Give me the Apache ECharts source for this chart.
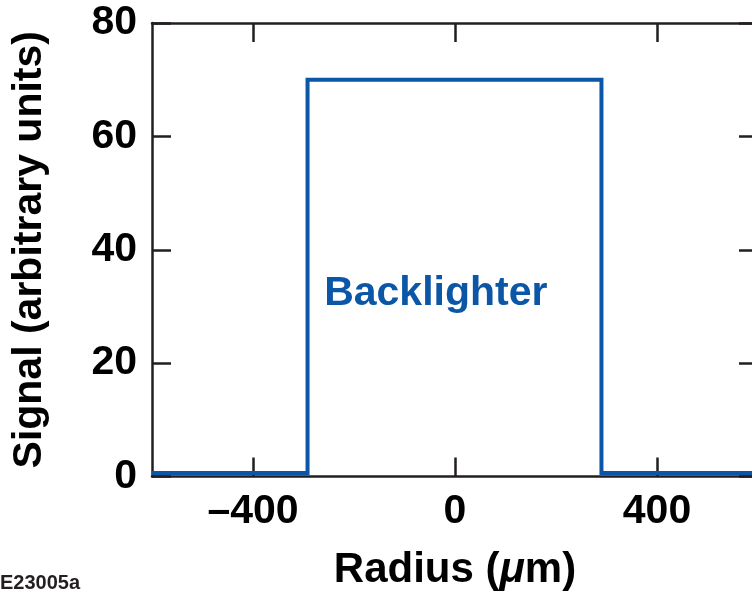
<!DOCTYPE html>
<html>
<head>
<meta charset="utf-8">
<script src="https://cdn.jsdelivr.net/npm/echarts@6/dist/echarts.min.js"></script>
<style>
  html, body { margin: 0; padding: 0; background: #ffffff; }
  #chart { width: 752px; height: 594px; }
</style>
</head>
<body>
<div id="chart"></div>
<script>
// Backlighter signal profile across the radius (a flat-topped step)
const radius = [-600, -292, -292, 290, 290, 600];
const signal = [0.6, 0.6, 70, 70, 0.6, 0.6];

// Axis ticks
const xTicks = [-400, 0, 400];
const yTicks = [0, 20, 40, 60, 80];

const ink = '#231f20';
const blue = '#0b56a6';
const font = '"Liberation Sans", Arial, Helvetica, sans-serif';

const chart = echarts.init(document.getElementById('chart'), null, { renderer: 'canvas' });

const baseTick = { show: true, inside: true, length: 19, lineStyle: { color: ink, width: 2.5 } };
const baseLine = { show: true, onZero: false, lineStyle: { color: ink, width: 2.5 } };

chart.setOption({
  animation: false,
  backgroundColor: '#ffffff',
  grid: {
    left: 152, right: -6, top: 23, bottom: 117.5,
    containLabel: false, outerBoundsMode: 'none'
  },
  xAxis: [
    {
      type: 'value', min: -600, max: 600, position: 'bottom',
      axisLine: baseLine,
      axisTick: Object.assign({ customValues: xTicks }, baseTick),
      axisLabel: {
        customValues: xTicks, margin: 15,
        fontFamily: font, fontWeight: 'bold', fontSize: 41, color: '#000',
        formatter: v => (v < 0 ? '\u2013' + Math.abs(v) : String(v))
      },
      splitLine: { show: false },
      name: '{t|Radius (}{mu|\u03bc}{t|m)}',
      nameLocation: 'middle', nameGap: 73,
      nameTextStyle: {
        rich: {
          t: { fontFamily: font, fontWeight: 'bold', fontSize: 42, color: '#000' },
          mu: { fontFamily: font, fontWeight: 'bold', fontStyle: 'italic', fontSize: 42, color: '#000' }
        }
      }
    },
    {
      type: 'value', min: -600, max: 600, position: 'top',
      axisLine: baseLine,
      axisTick: Object.assign({ customValues: xTicks }, baseTick),
      axisLabel: { show: false },
      splitLine: { show: false }
    }
  ],
  yAxis: [
    {
      type: 'value', min: 0, max: 80, interval: 20, position: 'left',
      axisLine: baseLine,
      axisTick: Object.assign({ customValues: yTicks }, baseTick),
      axisLabel: {
        margin: 15, padding: [4, 0, 0, 0],
        fontFamily: font, fontWeight: 'bold', fontSize: 41, color: '#000'
      },
      splitLine: { show: false },
      name: 'Signal (arbitrary units)',
      nameLocation: 'middle', nameGap: 102, nameRotate: 90,
      nameTextStyle: { fontFamily: font, fontWeight: 'bold', fontSize: 41, color: '#000' }
    },
    {
      type: 'value', min: 0, max: 80, interval: 20, position: 'right',
      axisLine: baseLine,
      axisTick: Object.assign({ customValues: yTicks }, baseTick),
      axisLabel: { show: false },
      splitLine: { show: false }
    }
  ],
  series: [
    {
      type: 'line',
      xAxisIndex: 0, yAxisIndex: 0,
      data: radius.map((r, i) => [r, signal[i]]),
      showSymbol: false,
      lineStyle: { color: blue, width: 4, join: 'miter' },
      z: 1,
      markPoint: {
        symbol: 'circle', symbolSize: 0,
        data: [{ coord: [-38, 32.2] }],
        label: {
          show: true, formatter: 'Backlighter', position: 'inside',
          fontFamily: font, fontWeight: 'bold', fontSize: 41, color: blue
        }
      }
    }
  ],
  graphic: [
    {
      type: 'text', left: 0, bottom: 1,
      style: { text: 'E23005a', fontFamily: font, fontWeight: 'bold', fontSize: 20, fill: ink }
    }
  ]
});
</script>
</body>
</html>
